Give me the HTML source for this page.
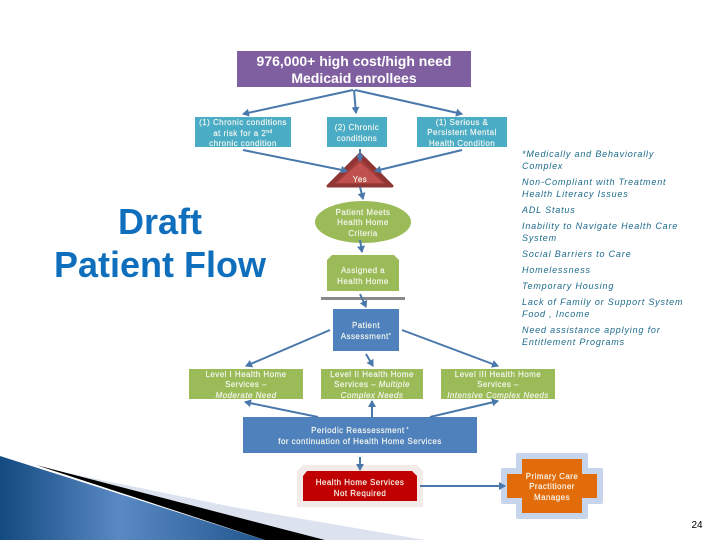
<!DOCTYPE html>
<html><head><meta charset="utf-8">
<style>
html,body{margin:0;padding:0;background:#fff;width:720px;height:540px;overflow:hidden}
svg{display:block}
text{font-family:"Liberation Sans",sans-serif}
.b{font-size:8px;fill:#f6f8f0;text-anchor:middle;letter-spacing:.45px;stroke:#f6f8f0;stroke-width:.15px}
.i{font-style:italic}
.r{font-size:9px;font-style:italic;fill:#1d6a8c;letter-spacing:.82px}
.a{stroke:#4a78aa;stroke-width:2;fill:none;marker-end:url(#m)}
</style></head><body>
<svg width="720" height="540" viewBox="0 0 720 540" xmlns="http://www.w3.org/2000/svg">
<defs>
<marker id="m" markerUnits="userSpaceOnUse" markerWidth="9" markerHeight="9" refX="6" refY="4.5" orient="auto"><path d="M0 .5L7 4.5L0 8.5Z" fill="#4a78aa"/></marker>
<linearGradient id="g" x1="0" y1="0" x2="1" y2="0"><stop offset="0" stop-color="#134a80"/><stop offset=".45" stop-color="#5a89c4"/><stop offset="1" stop-color="#21568f"/></linearGradient>
</defs>
<polygon points="43,468 233,507 425,540 325,540" fill="#dce3ef"/>
<polygon points="36,465 325,540 265,540" fill="#000"/>
<polygon points="0,456 265,540 0,540" fill="url(#g)"/>

<rect x="237" y="51" width="234" height="36" fill="#7f5f9f"/>
<text x="354" y="66" text-anchor="middle" font-size="14" font-weight="bold" fill="#fff">976,000+ high cost/high need</text>
<text x="354" y="83" text-anchor="middle" font-size="14" font-weight="bold" fill="#fff">Medicaid enrollees</text>

<rect x="195" y="117" width="96" height="30" fill="#4bacc6"/>
<rect x="327" y="117" width="60" height="30" fill="#4bacc6"/>
<rect x="417" y="117" width="90" height="30" fill="#4bacc6"/>
<text class="b" x="243" y="125">(1) Chronic conditions</text>
<text class="b" x="243" y="136">at risk for a 2<tspan font-size="5" dy="-3">nd</tspan></text>
<text class="b" x="243" y="146">chronic condition</text>
<text class="b" x="357" y="130">(2) Chronic</text>
<text class="b" x="357" y="141">conditions</text>
<text class="b" x="462" y="125">(1) Serious &amp;</text>
<text class="b" x="462" y="135">Persistent Mental</text>
<text class="b" x="462" y="146">Health Condition</text>

<polygon points="360,154 392,186 328,186" fill="#8f3533" stroke="#8f3533" stroke-width="3" stroke-linejoin="round"/>
<polygon points="360,158 386,184 334,184" fill="#a23e3b"/>
<polygon points="360,162 383,183 337,183" fill="#c0504d"/>
<text class="b" x="360" y="182">Yes</text>

<ellipse cx="363" cy="222" rx="48" ry="21" fill="#9bbb59"/>
<text class="b" x="363" y="215">Patient Meets</text>
<text class="b" x="363" y="225">Health Home</text>
<text class="b" x="363" y="236">Criteria</text>

<polygon points="332,255 394,255 399,260 399,291 327,291 327,260" fill="#9bbb59"/>
<text class="b" x="363" y="273">Assigned a</text>
<text class="b" x="363" y="284">Health Home</text>
<rect x="321" y="297" width="84" height="3" fill="#8a8a8a"/>

<rect x="333" y="309" width="66" height="42" fill="#4f81bd"/>
<text class="b" x="366" y="328">Patient</text>
<text class="b" x="366" y="339">Assessment<tspan font-size="5" dy="-2">*</tspan></text>

<rect x="189" y="369" width="114" height="30" fill="#9bbb59"/>
<rect x="321" y="369" width="102" height="30" fill="#9bbb59"/>
<rect x="441" y="369" width="114" height="30" fill="#9bbb59"/>
<text class="b" x="246" y="377">Level I Health Home</text>
<text class="b" x="246" y="387">Services –</text>
<text class="b i" x="246" y="398">Moderate Need</text>
<text class="b" x="372" y="377">Level II Health Home</text>
<text class="b" x="372" y="387">Services – <tspan class="i">Multiple</tspan></text>
<text class="b i" x="372" y="398">Complex Needs</text>
<text class="b" x="498" y="377">Level III Health Home</text>
<text class="b" x="498" y="387">Services –</text>
<text class="b i" x="498" y="398">Intensive Complex Needs</text>

<rect x="243" y="417" width="234" height="36" fill="#4f81bd"/>
<text class="b" x="360" y="433">Periodic Reassessment<tspan font-size="5" dy="-2"> *</tspan></text>
<text class="b" x="360" y="444">for continuation of Health Home Services</text>

<polygon points="303,465 417,465 423,471 423,507 297,507 297,471" fill="#f3eaea"/>
<polygon points="307,471 412,471 417,476 417,501 303,501 303,476" fill="#c00000"/>
<text class="b" x="360" y="485">Health Home Services</text>
<text class="b" x="360" y="496">Not Required</text>

<path d="M518 453h68a2 2 0 0 1 2 2v13h13a2 2 0 0 1 2 2v32a2 2 0 0 1-2 2h-13v13a2 2 0 0 1-2 2h-68a2 2 0 0 1-2-2v-13h-13a2 2 0 0 1-2-2v-32a2 2 0 0 1 2-2h13v-13a2 2 0 0 1 2-2z" fill="#c6d5ec"/>
<path d="M522 459h60v15h15v24h-15v15h-60v-15h-15v-24h15z" fill="#e36c0a"/>
<text class="b" x="552" y="479">Primary Care</text>
<text class="b" x="552" y="489">Practitioner</text>
<text class="b" x="552" y="500">Manages</text>

<g>
<line class="a" x1="353" y1="90" x2="243" y2="114"/>
<line class="a" x1="354" y1="90" x2="356" y2="113"/>
<line class="a" x1="355" y1="90" x2="462" y2="114"/>
<line class="a" x1="243" y1="150" x2="347" y2="171"/>
<line class="a" x1="360" y1="149" x2="360" y2="161"/>
<line class="a" x1="462" y1="150" x2="375" y2="171"/>
<line class="a" x1="360" y1="187" x2="363" y2="199"/>
<line class="a" x1="360" y1="240" x2="362" y2="252"/>
<line class="a" x1="360" y1="294" x2="366" y2="307"/>
<line class="a" x1="330" y1="330" x2="246" y2="366"/>
<line class="a" x1="366" y1="354" x2="373" y2="366"/>
<line class="a" x1="402" y1="330" x2="498" y2="366"/>
<line class="a" x1="318" y1="417" x2="245" y2="402"/>
<line class="a" x1="372" y1="417" x2="372" y2="401"/>
<line class="a" x1="430" y1="417" x2="498" y2="401"/>
<line class="a" x1="360" y1="457" x2="360" y2="470"/>
<line class="a" x1="420" y1="486" x2="505" y2="486"/>
</g>

<text x="160" y="234" text-anchor="middle" font-size="36" font-weight="bold" fill="#0f6fbc">Draft</text>
<text x="160" y="277" text-anchor="middle" font-size="36" font-weight="bold" fill="#0f6fbc">Patient Flow</text>

<text class="r" x="522" y="157">*Medically and Behaviorally</text>
<text class="r" x="522" y="169">Complex</text>
<text class="r" x="522" y="185">Non-Compliant with Treatment</text>
<text class="r" x="522" y="197">Health Literacy Issues</text>
<text class="r" x="522" y="213">ADL Status</text>
<text class="r" x="522" y="229">Inability to Navigate Health Care</text>
<text class="r" x="522" y="241">System</text>
<text class="r" x="522" y="257">Social Barriers to Care</text>
<text class="r" x="522" y="273">Homelessness</text>
<text class="r" x="522" y="289">Temporary Housing</text>
<text class="r" x="522" y="305">Lack of Family or Support System</text>
<text class="r" x="522" y="317">Food , Income</text>
<text class="r" x="522" y="333">Need assistance applying for</text>
<text class="r" x="522" y="345">Entitlement Programs</text>

<text x="697" y="528" text-anchor="middle" font-size="10" fill="#000">24</text>
</svg>
</body></html>
